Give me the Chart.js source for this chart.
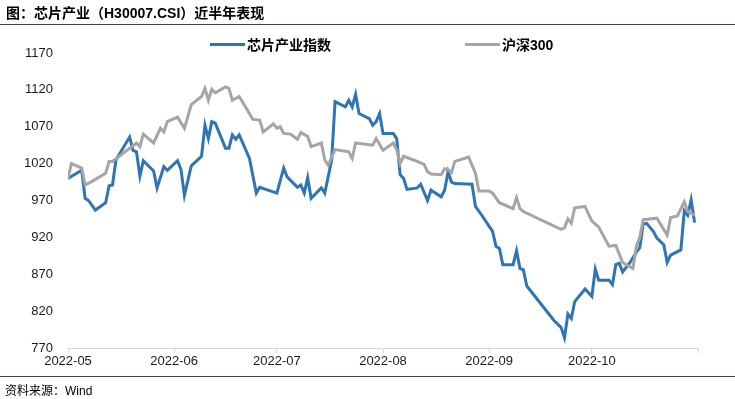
<!DOCTYPE html>
<html>
<head>
<meta charset="utf-8">
<script src="https://cdn.jsdelivr.net/npm/chart.js@4.4.1/dist/chart.umd.min.js"></script>
<style>
  html, body { margin:0; padding:0; background:#fff; }
  #wrap { position:relative; width:735px; height:399px; overflow:hidden; font-family:"Liberation Sans","Noto Sans CJK SC",sans-serif; }
  #c { position:absolute; left:0; top:0; }
  .title { position:absolute; left:6px; top:4px; font-size:14px; font-weight:bold; color:#000; line-height:18px; white-space:nowrap; }
  .rule { position:absolute; left:0; width:735px; height:1px; background:#3d4456; }
  .src { position:absolute; left:5px; top:383px; font-size:12px; color:#000; line-height:16px; white-space:nowrap; }
  .leg { position:absolute; top:36px; font-size:14px; font-weight:bold; color:#000; line-height:18px; white-space:nowrap; }
  .legline { position:absolute; top:43px; width:35px; height:3px; }
</style>
</head>
<body>
<div id="wrap">
  <canvas id="c" width="735" height="399"></canvas>
  <div class="title">图：芯片产业（H30007.CSI）近半年表现</div>
  <div class="rule" style="top:24px"></div>
  <div class="legline" style="left:210px;background:#2e75b6"></div>
  <div class="leg" style="left:247px">芯片产业指数</div>
  <div class="legline" style="left:465px;background:#a5a5a5"></div>
  <div class="leg" style="left:502px">沪深300</div>
  <div class="rule" style="top:376px"></div>
  <div class="src">资料来源：Wind</div>
</div>
<script>
// day offsets from 2022-05-01
const monthTicks = [0, 31, 61, 92, 123, 153, 184];
const monthLabels = ['2022-05', '2022-06', '2022-07', '2022-08', '2022-09', '2022-10', ''];
const seriesNames = ['芯片产业指数', '沪深300'];

const blueDay = [0,4,5,6,8,11,12,13,14,18,19,20,21,22,25,26,28,29,32,33,34,36,39,40,41,42,43,46,47,48,49,50,53,55,56,61,63,64,67,68,69,70,71,74,75,77,78,81,82,83,84,85,88,89,90,91,92,95,96,97,98,99,102,103,105,106,109,110,111,112,113,118,119,121,124,125,126,127,130,131,132,133,134,142,144,145,146,147,148,151,153,154,155,158,159,160,161,162,164,166,167,168,169,171,172,174,175,176,179,180,181,182,183];
const blueVal = [1000,1011,973,970,957,967,990,991,1025,1056,1038,1036,1003,1024,1010,987,1016,1011,1024,1012,977,1017,1030,1072,1054,1077,1075,1041,1041,1059,1053,1059,1027,980,988,980,1014,1002,988,991,980,1001,973,987,980,1025,1104,1097,1106,1097,1114,1088,1081,1072,1077,1088,1061,1061,1054,1005,1000,985,987,992,970,984,975,984,1009,995,993,992,962,949,928,908,905,883,883,902,878,876,854,807,798,784,816,810,833,850,840,877,862,862,856,883,885,873,885,900,906,938,939,928,919,910,886,896,903,956,950,971,940];

const greyDay = [0,1,4,5,7,11,12,13,20,21,22,25,27,28,29,32,34,36,39,40,41,42,43,46,47,48,50,54,56,57,60,61,62,63,65,67,68,70,71,74,75,76,78,82,83,84,89,90,92,95,96,97,98,102,104,105,106,109,110,111,112,113,117,119,120,123,124,126,130,131,132,133,144,145,146,147,148,151,153,155,158,160,162,163,165,166,167,168,172,175,176,178,180,181,183];
const greyVal = [1000,1020,1014,991,996,1007,1023,1023,1048,1043,1060,1048,1068,1063,1077,1083,1068,1100,1111,1122,1106,1121,1116,1124,1122,1106,1111,1080,1079,1063,1074,1068,1070,1061,1060,1053,1062,1057,1043,1048,1025,1018,1039,1036,1027,1048,1045,1054,1038,1048,1039,1020,1030,1023,1019,1009,1006,1005,1013,1012,1008,1023,1029,1007,983,983,980,967,959,974,959,955,931,933,945,939,960,962,942,934,908,909,886,883,878,908,920,944,946,923,947,949,968,955,950];

const toPts = (xs, ys) => xs.map((x, i) => ({ x: x, y: ys[i] }));
const tickFont = { family: '"Liberation Sans", Arial, sans-serif', size: 13 };

new Chart(document.getElementById('c'), {
  type: 'line',
  data: {
    datasets: [
      { label: seriesNames[1], data: toPts(greyDay, greyVal), borderColor: '#a5a5a5', borderWidth: 3, pointRadius: 0, tension: 0, fill: false },
      { label: seriesNames[0], data: toPts(blueDay, blueVal), borderColor: '#2e75b6', borderWidth: 3, pointRadius: 0, tension: 0, fill: false }
    ]
  },
  options: {
    responsive: false,
    animation: false,
    events: [],
    layout: { autoPadding: false, padding: { top: 53, left: 0, right: 37, bottom: 21 } },
    plugins: { legend: { display: false }, tooltip: { enabled: false }, title: { display: false } },
    scales: {
      x: {
        type: 'linear',
        min: 0, max: 184,
        afterFit: s => { s.height = 30; },
        afterBuildTicks: s => { s.ticks = monthTicks.map(v => ({ value: v })); },
        ticks: {
          autoSkip: false, maxRotation: 0, minRotation: 0, padding: 1,
          color: '#1a1a1a', font: tickFont,
          callback: (v) => monthLabels[monthTicks.indexOf(v)]
        },
        grid: { display: true, drawOnChartArea: false, drawTicks: true, tickLength: 5, color: '#d9d9d9', lineWidth: 1 },
        border: { display: true, color: '#d9d9d9', width: 1 }
      },
      y: {
        min: 770, max: 1170,
        afterFit: s => { s.width = 68; },
        ticks: { stepSize: 50, padding: 15, color: '#1a1a1a', font: tickFont, callback: v => String(v) },
        grid: { display: false, drawTicks: false },
        border: { display: false }
      }
    }
  }
});
</script>
</body>
</html>
